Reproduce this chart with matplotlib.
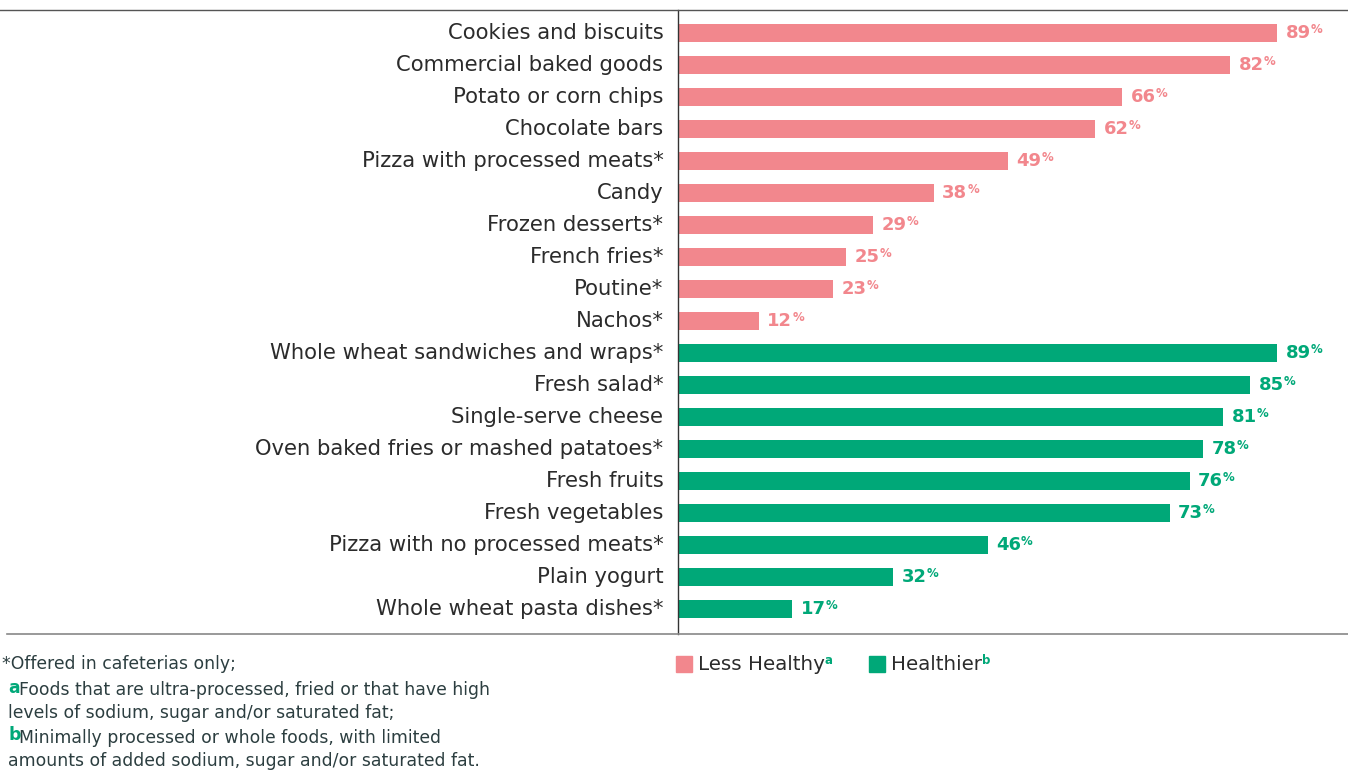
import matplotlib
matplotlib.use('Agg')

import matplotlib.pyplot as plt

# Share of schools offering each food item
less_healthy_items = [
    "Cookies and biscuits", "Commercial baked goods", "Potato or corn chips",
    "Chocolate bars", "Pizza with processed meats*", "Candy",
    "Frozen desserts*", "French fries*", "Poutine*", "Nachos*",
]
less_healthy_pct = [89, 82, 66, 62, 49, 38, 29, 25, 23, 12]

healthier_items = [
    "Whole wheat sandwiches and wraps*", "Fresh salad*", "Single-serve cheese",
    "Oven baked fries or mashed patatoes*", "Fresh fruits", "Fresh vegetables",
    "Pizza with no processed meats*", "Plain yogurt", "Whole wheat pasta dishes*",
]
healthier_pct = [89, 85, 81, 78, 76, 73, 46, 32, 17]

PINK = "#F2878D"
GREEN = "#00A878"
DARK = "#2B2B2B"
NOTE = "#2C3E40"

plt.rcParams['font.family'] = ['DejaVu Sans']

W, H = 1348, 772
fig = plt.figure(figsize=(W / 100, H / 100), dpi=100)
ax = fig.add_axes([678 / W, 1 - 634 / H, (1348 - 678) / W, (634 - 10) / H])

labels = less_healthy_items + healthier_items
values = less_healthy_pct + healthier_pct
colors = [PINK] * len(less_healthy_pct) + [GREEN] * len(healthier_pct)
ypos = list(range(len(labels)))

ax.barh(ypos, values, height=0.54, color=colors, zorder=2)
ax.set_xlim(0, 99.5)
ax.set_ylim(len(labels) - 0.22, -0.72)

for y, lab in zip(ypos, labels):
    ax.annotate(lab, xy=(0, y), xycoords=('axes fraction', 'data'),
                xytext=(-10.5, 0), textcoords='offset points', ha='right',
                va='center', fontsize=15.2, color=DARK)

for y, v, c in zip(ypos, values, colors):
    t = ax.annotate(f"{v}", xy=(v, y), xytext=(6, 0), textcoords='offset points',
                    ha='left', va='center', fontsize=13, fontweight='bold', color=c)
    ax.annotate("%", xy=(1, 1), xycoords=t, xytext=(0, 1), textcoords='offset points',
                ha='left', va='top', fontsize=8.5, fontweight='bold', color=c)

for s in ['top', 'right', 'bottom']:
    ax.spines[s].set_visible(False)
ax.spines['left'].set_color('#333333')
ax.spines['left'].set_linewidth(1.0)
ax.set_xticks([])
ax.set_yticks([])

# Rules above and below the chart area
fig.add_artist(plt.Line2D([0, 1], [1 - 10 / H, 1 - 10 / H], color='#555555', lw=1.0))
fig.add_artist(plt.Line2D([7 / W, 1], [1 - 634 / H, 1 - 634 / H], color='#888888', lw=1.2))

# Footnotes
fy = lambda py: 1 - py / H
NS = 12.4
fig.text(2 / W, fy(664), "*Offered in cafeterias only;", fontsize=NS, color=NOTE, va='center')
fig.text(8 / W, fy(688), "a", fontsize=NS, color=GREEN, fontweight='bold', va='center')
fig.text(19 / W, fy(690), "Foods that are ultra-processed, fried or that have high",
         fontsize=NS, color=NOTE, va='center')
fig.text(8 / W, fy(713), "levels of sodium, sugar and/or saturated fat;", fontsize=NS,
         color=NOTE, va='center')
fig.text(8 / W, fy(735), "b", fontsize=NS, color=GREEN, fontweight='bold', va='center')
fig.text(19 / W, fy(738), "Minimally processed or whole foods, with limited",
         fontsize=NS, color=NOTE, va='center')
fig.text(8 / W, fy(761), "amounts of added sodium, sugar and/or saturated fat.", fontsize=NS,
         color=NOTE, va='center')

# Legend
for x0, col, name, sup in [(676, PINK, "Less Healthy", "a"), (869, GREEN, "Healthier", "b")]:
    fig.add_artist(plt.Rectangle((x0 / W, fy(672)), 16 / W, 16 / H, color=col))
    t = fig.text((x0 + 22) / W, fy(665), name, fontsize=14.3, color=DARK, va='center')
    ax.annotate(sup, xy=(1, 1), xycoords=t, xytext=(0, 1), textcoords='offset points',
                ha='left', va='top', fontsize=8.5, fontweight='bold', color=GREEN,
                annotation_clip=False)

fig.savefig('out.png', dpi=100)
plt.close(fig)
